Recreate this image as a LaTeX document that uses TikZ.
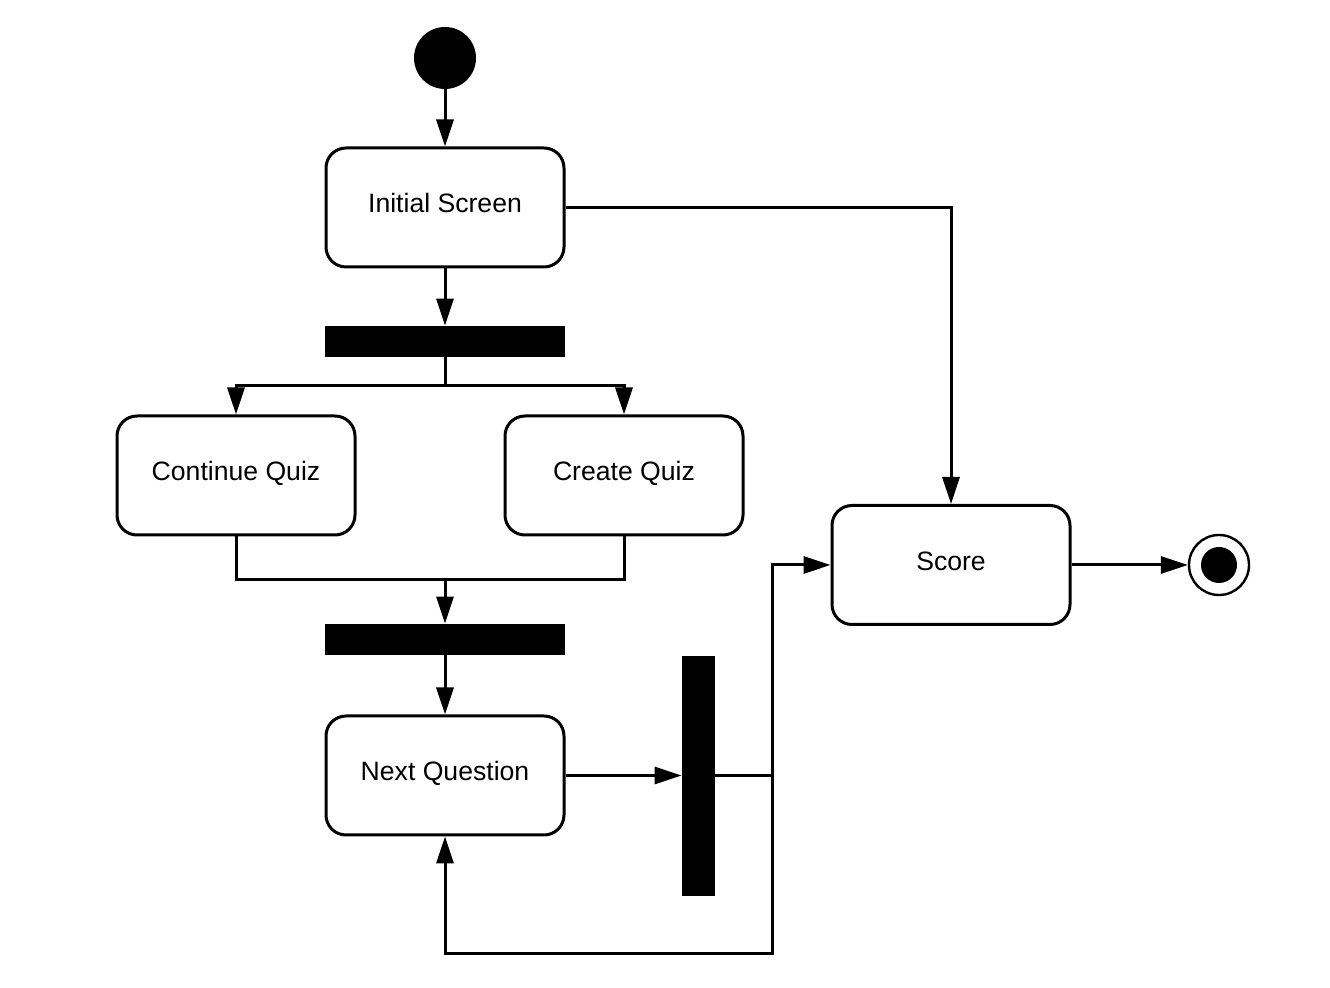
\documentclass[tikz,border=0pt]{standalone}
\usepackage{fontspec}
\setmainfont{Liberation Sans}
\usetikzlibrary{arrows.meta}
\begin{document}
\begin{tikzpicture}[x=0.5pt,y=-0.5pt,
  act/.style={draw,line width=1.5pt,rounded corners=10pt,minimum width=119pt,minimum height=59.5pt,inner sep=0pt,text height=0.73em,text depth=0.22em,font=\fontsize{13.3}{16}\selectfont},
  hbar/.style={fill=black,draw=none,minimum width=120pt,minimum height=15.5pt,inner sep=0pt},
  vbarst/.style={fill=black,draw=none,minimum width=16.5pt,minimum height=120pt,inner sep=0pt},
  conn/.style={line width=1.5pt},
  arr/.style={conn,-{Triangle[length=13.5pt,width=8.5pt]}}]
\useasboundingbox (0,0) rectangle (1330,988);
\node[circle,fill=black,minimum size=31pt,inner sep=0pt] (start) at (445,58) {};
\node[act] (init) at (445,207.5) {Initial Screen};
\node[hbar] (bar1) at (445,341.5) {};
\node[act] (cq) at (236,475.5) {Continue Quiz};
\node[act] (ct) at (624,475.5) {Create Quiz};
\node[hbar] (bar2) at (445,639.5) {};
\node[act] (nq) at (445,775.5) {Next Question};
\node[vbarst] (vbar) at (698.5,776) {};
\node[act] (score) at (951,565) {Score};
\node[circle,draw,line width=1.2pt,minimum size=30pt,inner sep=0pt] (final) at (1219,565) {};
\node[circle,fill=black,minimum size=18pt,inner sep=0pt] (finalin) at (1219,565) {};
\coordinate (f1) at (445,386);
\coordinate (j1) at (445,580);
\coordinate (m) at (772,776);
\coordinate (bot) at (772,954);
\draw[arr] (start) -- (init);
\draw[arr] (init) -- (bar1);
\draw[conn] (bar1) -- (f1);
\draw[arr] (f1) -| (cq);
\draw[arr] (f1) -| (ct);
\draw[conn] (cq.south) |- (j1) -| (ct.south);
\draw[arr] (j1) -- (bar2);
\draw[arr] (bar2) -- (nq);
\draw[arr] (nq.east) -- (vbar.west |- nq.east);
\draw[conn] (vbar.east) -- (m);
\draw[arr] (m) |- (score.west);
\draw[arr] (m) -- (bot) -| (nq.south);
\draw[arr] (init.east) -| (score.north);
\draw[arr] (score.east) -- (final.west);
\end{tikzpicture}
\end{document}
